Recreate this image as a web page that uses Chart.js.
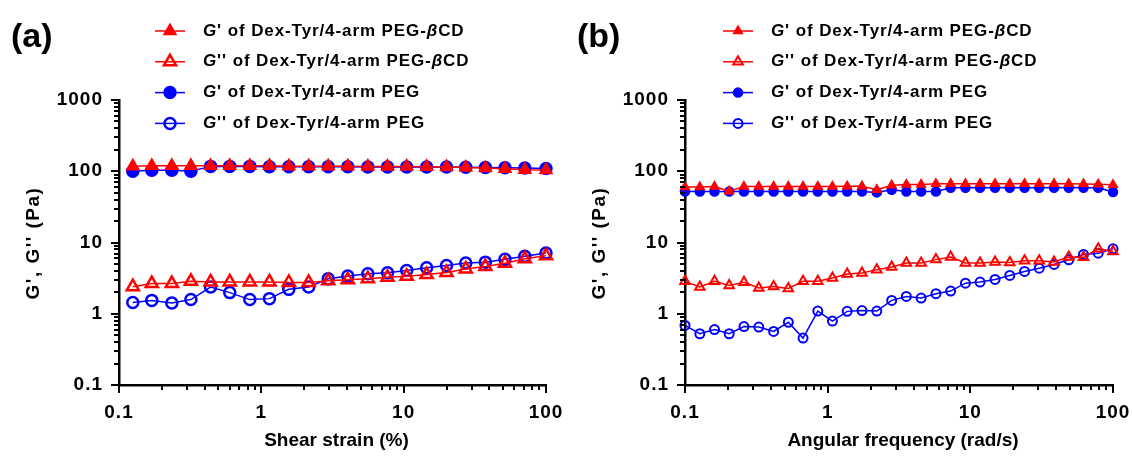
<!DOCTYPE html>
<html lang="en">
<head>
  <meta charset="UTF-8" />
  <title>G' and G'' of Dex-Tyr hydrogels</title>
  <script src="https://cdn.jsdelivr.net/npm/chart.js"></script>
  <style>
    body { margin: 0; background: #fff; }
    .panel { position: absolute; top: 0; height: 459px; }
    #panelA { left: 0; width: 566px; }
    #panelB { left: 566px; width: 567px; }
  </style>
</head>
<body>
  <div class="panel" id="panelA"><canvas id="chartA"></canvas></div>
  <div class="panel" id="panelB"><canvas id="chartB"></canvas></div>

  <script>
    // (a) strain sweep
    const strain = [0.125, 0.17, 0.235, 0.32, 0.44, 0.6, 0.83, 1.14, 1.56, 2.15, 2.95, 4.05, 5.6, 7.7, 10.5, 14.5, 20, 27.3, 37.5, 51.5, 71, 100];
    const strainGp_bcd  = [118, 119, 119, 119, 119, 119, 119, 119, 118, 118, 118, 118, 117, 117, 117, 116, 115, 113, 111, 108, 105, 104];
    const strainGpp_bcd = [2.4, 2.65, 2.65, 2.85, 2.8, 2.8, 2.8, 2.8, 2.75, 2.75, 2.9, 3.0, 3.1, 3.25, 3.35, 3.55, 3.8, 4.25, 4.6, 5.1, 5.9, 6.5];
    const strainGp_peg  = [100, 103, 103, 100, 117, 117, 117, 116, 116, 116, 116, 116, 115, 115, 115, 115, 115, 114, 113, 112, 111, 109];
    const strainGpp_peg = [1.44, 1.54, 1.42, 1.58, 2.37, 1.98, 1.58, 1.63, 2.2, 2.37, 3.1, 3.38, 3.65, 3.77, 4.06, 4.42, 4.76, 5.14, 5.3, 5.8, 6.4, 7.1];

    // (b) frequency sweep
    const freq = [0.1, 0.127, 0.161, 0.204, 0.259, 0.329, 0.418, 0.53, 0.672, 0.853, 1.08, 1.37, 1.74, 2.21, 2.81, 3.56, 4.52, 5.74, 7.28, 9.24, 11.7, 14.9, 18.9, 24, 30.4, 38.6, 49, 62.1, 78.8, 100];
    const freqGp_bcd  = [60, 60, 61, 52.5, 61, 61, 61, 61, 61, 61, 61, 61.5, 61.5, 55, 63.5, 65, 65, 66.5, 66.5, 66.5, 66.5, 66.5, 66.5, 66.5, 66.5, 66.5, 66.5, 66, 65.5, 64.5];
    const freqGpp_bcd = [2.85, 2.38, 2.85, 2.5, 2.76, 2.3, 2.42, 2.26, 2.85, 2.85, 3.17, 3.6, 3.73, 4.16, 4.53, 5.15, 5.15, 5.75, 6.25, 5.15, 5.15, 5.32, 5.25, 5.56, 5.56, 5.32, 6.25, 6.2, 8.2, 7.5];
    const freqGp_peg  = [52, 52, 52, 52, 52, 52, 52, 52, 52, 52, 52, 52, 52, 50.5, 55, 52, 52, 52, 58.5, 58.5, 58.5, 58.5, 58.5, 58.5, 58.5, 58.5, 58.5, 58.5, 58.5, 51];
    const freqGpp_peg = [0.685, 0.524, 0.6, 0.524, 0.66, 0.65, 0.565, 0.76, 0.455, 1.09, 0.79, 1.08, 1.11, 1.09, 1.54, 1.75, 1.66, 1.91, 2.08, 2.69, 2.78, 3.03, 3.45, 3.92, 4.36, 4.92, 5.72, 6.79, 7.08, 8.16];

    const yTickLabels = ['0.1', '1', '10', '100', '1000'];   // 10^-1 .. 10^3
    const xTickLabels = ['0.1', '1', '10', '100'];           // 10^-1 .. 10^2

    // legend text, [text, italic]
    const legendLabels = [
      [['G', true], ["' of Dex-Tyr/4-arm PEG-", false], ['β', true], ['CD', false]],
      [['G', true], ["'' of Dex-Tyr/4-arm PEG-", false], ['β', true], ['CD', false]],
      [['G', true], ["' of Dex-Tyr/4-arm PEG", false]],
      [['G', true], ["'' of Dex-Tyr/4-arm PEG", false]]
    ];

    const RED = '#ff0000';
    const BLUE = '#0000ff';
    const FONT = 'Arial, "Liberation Sans", sans-serif';

    function decadeLabel(v, labels, minExp) {
      const e = Math.log10(v);
      const r = Math.round(e);
      if (Math.abs(e - r) > 1e-6) return '';
      return labels[r - minExp] || '';
    }

    // axis ticks, legend, titles, panel letter
    const decorPlugin = {
      id: 'decor',
      beforeDraw(chart) {
        chart.ctx.letterSpacing = '1px';   // wider tick labels like the export
      },
      afterDraw(chart, args, opts) {
        const ctx = chart.ctx;
        const area = chart.chartArea;
        const xs = chart.scales.x, ys = chart.scales.y;
        ctx.save();
        ctx.letterSpacing = '0px';
        ctx.strokeStyle = '#000';
        ctx.lineWidth = 2;
        // y ticks (outward, left)
        for (let e = -1; e <= 3; e++) {
          for (let m = 1; m <= 9; m++) {
            const v = m * Math.pow(10, e);
            if (v > 1000.001) break;
            const y = Math.round(ys.getPixelForValue(v));
            const len = m === 1 ? 8 : 5;
            ctx.beginPath();
            ctx.moveTo(area.left, y);
            ctx.lineTo(area.left - len, y);
            ctx.stroke();
          }
        }
        // x ticks (outward, down)
        for (let e = -1; e <= 2; e++) {
          for (let m = 1; m <= 9; m++) {
            const v = m * Math.pow(10, e);
            if (v > 100.001) break;
            const x = Math.round(xs.getPixelForValue(v));
            const len = m === 1 ? 8 : 5;
            ctx.beginPath();
            ctx.moveTo(x, area.bottom);
            ctx.lineTo(x, area.bottom + len);
            ctx.stroke();
          }
        }

        // panel letter
        ctx.fillStyle = '#000';
        ctx.font = 'bold 34px ' + FONT;
        ctx.textAlign = 'left';
        ctx.textBaseline = 'middle';
        ctx.fillText(opts.letter, 11, 38);

        // y title
        ctx.save();
        ctx.translate(34, 243);
        ctx.rotate(-Math.PI / 2);
        ctx.font = 'bold 19px ' + FONT;
        ctx.letterSpacing = '1.5px';
        ctx.textAlign = 'center';
        ctx.fillText("G', G'' (Pa)", 0, 0);
        ctx.restore();

        // x title
        ctx.font = 'bold 19px ' + FONT;
        ctx.textAlign = 'center';
        ctx.fillText(opts.xTitle, (area.left + area.right) / 2 + 4, 441);

        // legend
        ctx.textAlign = 'left';
        chart.data.datasets.forEach((ds, i) => {
          const y = 31 + i * 30.8;
          ctx.strokeStyle = ds.borderColor;
          ctx.lineWidth = 1.5;
          ctx.beginPath();
          ctx.moveTo(opts.legendX, y);
          ctx.lineTo(opts.legendX + 30, y);
          ctx.stroke();
          ctx.fillStyle = ds.pointBackgroundColor;
          ctx.strokeStyle = ds.borderColor;
          ctx.lineWidth = ds.pointBorderWidth;
          Chart.helpers.drawPoint(ctx, {
            pointStyle: ds.pointStyle,
            radius: opts.legendRadius[i],
            borderWidth: ds.pointBorderWidth,
            rotation: 0
          }, opts.legendX + 15, y);
          let tx = opts.legendX + 48;
          ctx.fillStyle = '#000';
          ctx.letterSpacing = '0.9px';
          legendLabels[i].forEach(([t, it]) => {
            ctx.font = (it ? 'italic ' : '') + 'bold 17px ' + FONT;
            ctx.fillText(t, tx, y);
            tx += ctx.measureText(t).width;
          });
          ctx.letterSpacing = '0px';
        });
        ctx.restore();
      }
    };

    function series(xs, ys) {
      return xs.map((x, i) => ({ x: x, y: ys[i] }));
    }

    function makeChart(id, xs, data, opts) {
      const styles = [
        { color: RED, style: 'triangle', fill: RED, r: opts.r[0], bw: 1.5 },
        { color: RED, style: 'triangle', fill: 'rgba(255,255,255,0)', r: opts.r[1], bw: opts.openBw },
        { color: BLUE, style: 'circle', fill: BLUE, r: opts.r[2], bw: 1.5 },
        { color: BLUE, style: 'circle', fill: 'rgba(255,255,255,0)', r: opts.r[3], bw: opts.openBw }
      ];
      const datasets = data.map((d, i) => ({
        label: 'series ' + i,
        data: series(xs, d),
        borderColor: styles[i].color,
        backgroundColor: styles[i].color,
        borderWidth: 1.5,
        pointStyle: styles[i].style,
        pointRadius: styles[i].r,
        pointBackgroundColor: styles[i].fill,
        pointBorderColor: styles[i].color,
        pointBorderWidth: styles[i].bw,
        tension: 0,
        clip: false
      }));

      const tickFont = { family: FONT, weight: 'bold', size: 19 };
      return new Chart(document.getElementById(id), {
        type: 'line',
        data: { datasets: datasets },
        options: {
          responsive: true,
          maintainAspectRatio: false,
          animation: false,
          layout: { padding: { top: 100, right: 20, left: 0, bottom: 0 } },
          plugins: {
            legend: { display: false },
            tooltip: { enabled: false },
            decor: opts.decor
          },
          scales: {
            x: {
              type: 'logarithmic',
              min: 0.1,
              max: 100,
              afterFit: s => { s.height = 74; s.paddingLeft = 0; s.paddingRight = 0; },
              grid: { drawOnChartArea: false, drawTicks: true, tickLength: 8, color: 'rgba(0,0,0,0)', tickColor: 'rgba(0,0,0,0)' },
              border: { display: true, color: '#000', width: 2.5 },
              ticks: {
                autoSkip: false, maxRotation: 0, padding: 8,
                color: '#000', font: tickFont,
                callback: v => decadeLabel(v, xTickLabels, -1)
              }
            },
            y: {
              type: 'logarithmic',
              min: 0.1,
              max: 1000,
              afterFit: s => { s.width = 119; s.paddingTop = 0; s.paddingBottom = 0; },
              grid: { drawOnChartArea: false, drawTicks: true, tickLength: 8, color: 'rgba(0,0,0,0)', tickColor: 'rgba(0,0,0,0)' },
              border: { display: true, color: '#000', width: 2.5 },
              ticks: {
                autoSkip: false, padding: 8,
                color: '#000', font: tickFont,
                callback: v => decadeLabel(v, yTickLabels, -1)
              }
            }
          }
        },
        plugins: [decorPlugin]
      });
    }

    makeChart('chartA', strain,
      [strainGp_bcd, strainGpp_bcd, strainGp_peg, strainGpp_peg],
      {
        r: [7, 7, 6, 5.5], openBw: 2.5,
        decor: { letter: '(a)', xTitle: 'Shear strain (%)', legendX: 155, legendRadius: [7, 7, 6, 5.5] }
      });

    makeChart('chartB', freq,
      [freqGp_bcd, freqGpp_bcd, freqGp_peg, freqGpp_peg],
      {
        r: [5, 5.5, 4.5, 4.5], openBw: 2,
        decor: { letter: '(b)', xTitle: 'Angular frequency (rad/s)', legendX: 157, legendRadius: [5, 5.5, 4.5, 4.5] }
      });
  </script>
</body>
</html>
